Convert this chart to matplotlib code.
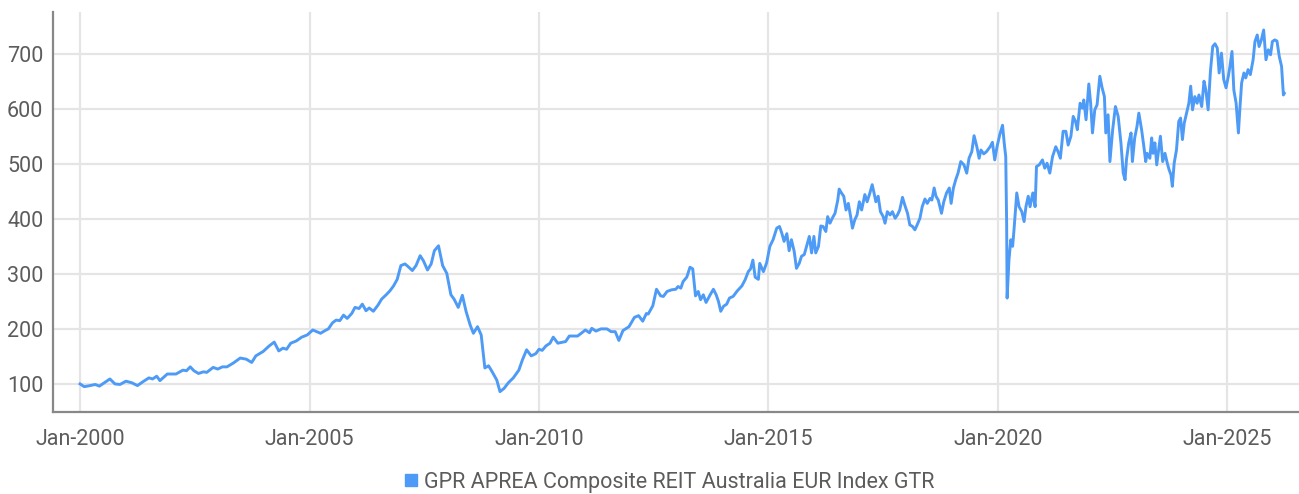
import matplotlib
matplotlib.use("Agg")
import matplotlib.pyplot as plt
from matplotlib.lines import Line2D
import numpy as np

SERIES_NAME = "GPR APREA Composite REIT Australia EUR Index GTR"

# 2000 - mid 2012, roughly monthly points (decimal years)
years_early = [
    2000.00, 2000.09, 2000.22, 2000.33, 2000.42, 2000.65, 2000.76, 2000.87,
    2001.00, 2001.13, 2001.25, 2001.37, 2001.50, 2001.58, 2001.67, 2001.74, 2001.90,
    2002.09, 2002.24, 2002.32, 2002.40, 2002.48, 2002.58, 2002.69, 2002.76, 2002.90,
    2003.00, 2003.10, 2003.20, 2003.34, 2003.49, 2003.62, 2003.74, 2003.83, 2003.99,
    2004.12, 2004.23, 2004.33, 2004.42, 2004.50, 2004.59, 2004.71, 2004.83, 2004.95,
    2005.07, 2005.24, 2005.34, 2005.41, 2005.50, 2005.58, 2005.66, 2005.74, 2005.82,
    2005.92, 2005.99, 2006.08, 2006.15, 2006.23, 2006.30, 2006.39, 2006.49, 2006.57,
    2006.67, 2006.75, 2006.83, 2006.91, 2006.99, 2007.08, 2007.15, 2007.24, 2007.32,
    2007.41, 2007.48, 2007.57, 2007.65, 2007.72, 2007.81, 2007.90, 2007.99, 2008.08,
    2008.15, 2008.24, 2008.33, 2008.41, 2008.50, 2008.57, 2008.66, 2008.74, 2008.82,
    2008.90, 2008.98, 2009.08, 2009.15, 2009.24, 2009.33, 2009.44, 2009.56, 2009.64,
    2009.73, 2009.83, 2009.93, 2010.00, 2010.07, 2010.15, 2010.24, 2010.31, 2010.41,
    2010.58, 2010.66, 2010.84, 2010.92, 2011.01, 2011.10, 2011.15, 2011.24, 2011.35,
    2011.48, 2011.57, 2011.66, 2011.74, 2011.83, 2011.96, 2012.08, 2012.17, 2012.26,
    2012.34, 2012.38,
]
values_early = [
    100, 95, 97, 99, 96, 109, 100, 99,
    105, 102, 97, 104, 111, 109, 114, 106, 118,
    118, 125, 124, 131, 124, 119, 122, 121, 130,
    127, 131, 131, 138, 147, 145, 139, 151, 159,
    169, 176, 160, 165, 163, 174, 178, 185, 189,
    198, 192, 197, 200, 211, 216, 215, 225, 219,
    228, 239, 237, 245, 233, 238, 232, 243, 254,
    262, 269, 278, 290, 315, 318, 313, 306, 315,
    333, 324, 307, 318, 342, 351, 315, 301, 262,
    254, 239, 261, 232, 207, 192, 204, 189, 129,
    133, 122, 107, 86, 92, 102, 111, 125, 144,
    162, 151, 155, 163, 161, 169, 174, 185, 174,
    177, 187, 187, 192, 198, 193, 201, 196, 200,
    200, 195, 195, 179, 197, 204, 221, 224, 214,
    228, 227,
]

# mid 2012 - 2020 crash
years_mid = [
    2012.48, 2012.56, 2012.65, 2012.71, 2012.79, 2012.89, 2012.98, 2013.03, 2013.09,
    2013.14, 2013.22, 2013.29, 2013.35, 2013.41, 2013.47, 2013.52, 2013.58, 2013.64,
    2013.73, 2013.80, 2013.86, 2013.91, 2013.96, 2014.02, 2014.09, 2014.15, 2014.23,
    2014.32, 2014.42, 2014.49, 2014.56, 2014.61, 2014.66, 2014.71, 2014.78, 2014.81,
    2014.89, 2014.96, 2015.03, 2015.10, 2015.18, 2015.24, 2015.29, 2015.34, 2015.40,
    2015.45, 2015.50, 2015.56, 2015.61, 2015.67, 2015.72, 2015.78, 2015.83, 2015.89,
    2015.94, 2015.99, 2016.03, 2016.09, 2016.14, 2016.19, 2016.25, 2016.29, 2016.34,
    2016.39, 2016.45, 2016.51, 2016.54, 2016.59, 2016.64, 2016.69, 2016.74, 2016.79,
    2016.83, 2016.88, 2016.93, 2016.98, 2017.03, 2017.10, 2017.15, 2017.21, 2017.26,
    2017.30, 2017.34, 2017.39, 2017.44, 2017.50, 2017.54, 2017.59, 2017.65, 2017.70,
    2017.76, 2017.81, 2017.86, 2017.92, 2017.97, 2018.03, 2018.08, 2018.14, 2018.19,
    2018.24, 2018.30, 2018.35, 2018.41, 2018.46, 2018.52, 2018.56, 2018.61, 2018.65,
    2018.70, 2018.77, 2018.82, 2018.88, 2018.94, 2018.98, 2019.03, 2019.08, 2019.13,
    2019.19, 2019.26, 2019.32, 2019.37, 2019.43, 2019.48, 2019.54, 2019.59, 2019.63,
    2019.69, 2019.75, 2019.83, 2019.88, 2019.93, 2019.98, 2020.04, 2020.10, 2020.14,
    2020.17, 2020.19,
]
values_mid = [
    242, 272, 260, 259, 268, 271, 272, 277, 274,
    286, 294, 312, 309, 260, 268, 253, 262, 248,
    262, 272, 262, 250, 232, 241, 245, 256, 259,
    269, 278, 289, 304, 309, 325, 294, 290, 319,
    304, 320, 350, 362, 383, 386, 374, 359, 373,
    342, 362, 341, 310, 319, 332, 335, 350, 368,
    338, 368, 338, 350, 387, 386, 377, 404, 392,
    401, 410, 434, 454, 447, 441, 416, 428, 404,
    383, 398, 407, 431, 416, 444, 431, 447, 462,
    447, 431, 441, 413, 404, 392, 413, 407, 413,
    401, 407, 416, 439, 425, 410, 389, 386, 380,
    389, 401, 422, 436, 428, 437, 434, 456, 441,
    434, 410, 431, 447, 456, 428, 456, 471, 483,
    504, 498, 483, 510, 522, 551, 531, 510, 525,
    518, 522, 531, 539, 507, 531, 553, 570, 535,
    513, 390,
]

# 2020 trough - latest
years_late = [
    2020.20, 2020.24, 2020.28, 2020.32, 2020.35, 2020.41, 2020.46, 2020.52, 2020.57,
    2020.61, 2020.66, 2020.70, 2020.76, 2020.81, 2020.84, 2020.90, 2020.97, 2021.02,
    2021.07, 2021.13, 2021.19, 2021.26, 2021.31, 2021.36, 2021.42, 2021.48, 2021.53,
    2021.59, 2021.64, 2021.69, 2021.73, 2021.79, 2021.84, 2021.87, 2021.92, 2021.98,
    2022.02, 2022.06, 2022.11, 2022.16, 2022.22, 2022.27, 2022.32, 2022.35, 2022.40,
    2022.44, 2022.50, 2022.56, 2022.62, 2022.68, 2022.73, 2022.77, 2022.80, 2022.85,
    2022.90, 2022.93, 2022.98, 2023.03, 2023.07, 2023.13, 2023.18, 2023.22, 2023.25,
    2023.31, 2023.35, 2023.38, 2023.42, 2023.46, 2023.51, 2023.54, 2023.59, 2023.64,
    2023.69, 2023.73, 2023.77, 2023.80, 2023.84, 2023.89, 2023.94, 2023.98, 2024.02,
    2024.06, 2024.11, 2024.16, 2024.20, 2024.24, 2024.29, 2024.34, 2024.38, 2024.44,
    2024.49, 2024.53, 2024.58, 2024.63, 2024.68, 2024.73, 2024.78, 2024.82, 2024.87,
    2024.92, 2024.97, 2025.02, 2025.05, 2025.10, 2025.14, 2025.19, 2025.24, 2025.27,
    2025.31, 2025.36, 2025.40, 2025.45, 2025.50, 2025.56, 2025.60, 2025.65, 2025.69,
    2025.74, 2025.79, 2025.84, 2025.89, 2025.94, 2025.98, 2026.03, 2026.08, 2026.13,
    2026.18, 2026.22, 2026.24,
]
values_late = [
    256, 325, 362, 350, 380, 447, 422, 413, 395,
    422, 441, 422, 447, 422, 495, 498, 507, 492,
    501, 483, 513, 531, 522, 510, 559, 559, 534,
    550, 586, 577, 562, 610, 601, 616, 580, 645,
    610, 556, 598, 607, 659, 638, 622, 556, 589,
    504, 562, 604, 586, 538, 483, 471, 507, 538,
    556, 504, 547, 568, 592, 562, 531, 504, 519,
    510, 547, 519, 538, 498, 531, 550, 504, 519,
    501, 489, 480, 459, 501, 525, 577, 583, 544,
    574, 592, 610, 641, 598, 622, 610, 625, 604,
    650, 634, 598, 668, 713, 718, 710, 665, 701,
    653, 638, 659, 674, 704, 634, 610, 556, 598,
    647, 665, 656, 671, 662, 689, 722, 734, 713,
    725, 743, 689, 707, 698, 722, 725, 723, 695,
    677, 625, 628,
]

tick_years = [2000, 2005, 2010, 2015, 2020, 2025]
tick_labels = ["Jan-2000", "Jan-2005", "Jan-2010", "Jan-2015", "Jan-2020", "Jan-2025"]
y_ticks = [100, 200, 300, 400, 500, 600, 700]

years = np.array(years_early + years_mid + years_late)
values = np.array(values_early + values_mid + values_late)

plt.rcParams['font.family'] = ['Roboto', 'DejaVu Sans']

line_color = "#4d9bf6"
text_color = "#5c5c5c"
FS = 15.5

fig = plt.figure(figsize=(12.99, 4.94), dpi=100)
ax = fig.add_axes([0.0408, 0.166, 0.9592, 0.810])

ax.plot(years, values, color=line_color, linewidth=2.1, solid_joinstyle='round')

ax.set_xlim(1999.41, 2026.56)
ax.set_ylim(49, 776)
ax.set_xticks(tick_years)
ax.set_xticklabels(tick_labels)
ax.set_yticks(y_ticks)

ax.grid(True, color="#e5e5e5", linewidth=1.6)
ax.set_axisbelow(True)
for side in ["top", "right"]:
    ax.spines[side].set_visible(False)
for side in ["left", "bottom"]:
    ax.spines[side].set_color("#888888")
    ax.spines[side].set_linewidth(1.6)

ax.tick_params(axis='both', length=0, labelsize=FS, labelcolor=text_color)
ax.tick_params(axis='x', pad=12)
ax.tick_params(axis='y', pad=7)

handle = Line2D([], [], color=line_color, marker='s', linestyle='none', markersize=8.5)
ax.legend([handle], [SERIES_NAME], loc='center', bbox_to_anchor=(0.495, -0.175),
          frameon=False, fontsize=FS, labelcolor=text_color,
          handlelength=0.6, handletextpad=0.3, borderpad=0)

fig.savefig("out.png", dpi=100)
